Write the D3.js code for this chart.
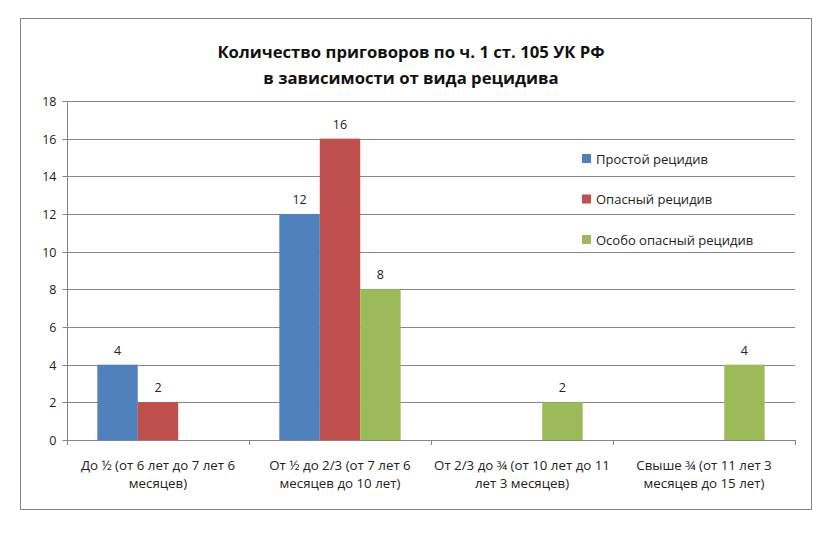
<!DOCTYPE html>
<html><head><meta charset="utf-8">
<script src="https://cdn.jsdelivr.net/npm/d3@7"></script>
<style>body{margin:0;background:#fff;}svg{display:block;}</style>
</head><body>
<svg id="c" width="833" height="534"></svg>
<script>
const categories = [
  ["До ½ (от 6 лет до 7 лет 6", "месяцев)"],
  ["От ½ до  2/3  (от 7 лет 6", "месяцев до 10 лет)"],
  ["От 2/3  до ¾ (от 10  лет до 11", "лет 3 месяцев)"],
  ["Свыше ¾ (от 11  лет 3", "месяцев до 15 лет)"]
];
const seriesNames = ["Простой рецидив", "Опасный рецидив", "Особо опасный рецидив"];
const simpleVals = [4, 12, null, null];
const dangerousVals = [2, 16, null, null];
const especiallyVals = [null, 8, 2, 4];
const yTicks = [0, 2, 4, 6, 8, 10, 12, 14, 16, 18];
const titleLines = ["Количество приговоров по ч. 1 ст. 105 УК РФ", "в зависимости от вида рецидива"];
const colors = ["#4F81BD", "#C0504D", "#9BBB59"];
const series = [simpleVals, dangerousVals, especiallyVals];

const svg = d3.select("#c");
const font = "'Open Sans', 'DejaVu Sans', sans-serif";
svg.append("rect").attr("x", 20.5).attr("y", 18.5).attr("width", 791).attr("height", 491)
  .attr("fill", "#fff").attr("stroke", "#868686").attr("stroke-width", 1);

const L = 67, R = 795, T = 101, B = 440;
const x = d3.scaleBand().domain(d3.range(categories.length)).range([L, R]).paddingInner(0).paddingOuter(0);
const y = d3.scaleLinear().domain([0, 18]).range([B, T]);
const bw = x.bandwidth() / 4.5;
const xs = d3.scaleBand().domain(d3.range(3)).range([0.75 * bw, x.bandwidth() - 0.75 * bw]);

// gridlines
svg.append("g").selectAll("line").data(yTicks).join("line")
  .attr("x1", L).attr("x2", R).attr("y1", d => Math.round(y(d)) + 0.5).attr("y2", d => Math.round(y(d)) + 0.5)
  .attr("stroke", "#868686").attr("stroke-width", 1);

// y axis
const ya = svg.append("g").attr("transform", `translate(${L + 0.5},0)`)
  .call(d3.axisLeft(y).tickValues(yTicks).tickSize(5).tickPadding(6));
ya.select(".domain").attr("stroke", "#868686").attr("d", `M0,${T}V${B + 0.5}`);
ya.selectAll(".tick line").attr("stroke", "#868686");
ya.selectAll(".tick").attr("transform", d => `translate(0,${Math.round(y(d)) + 0.5})`);
ya.selectAll("text").attr("font-family", font).attr("font-size", 12.5).attr("fill", "#222");

// x axis ticks
const xTickPos = d3.range(categories.length + 1).map(i => i < categories.length ? x(i) : R);
svg.append("g").selectAll("line").data(xTickPos).join("line")
  .attr("x1", d => Math.round(d) + 0.5).attr("x2", d => Math.round(d) + 0.5)
  .attr("y1", B).attr("y2", B + 5).attr("stroke", "#868686");

// bars
series.forEach((vals, si) => {
  const g = svg.append("g");
  const data = vals.map((v, i) => ({v, i})).filter(d => d.v != null);
  g.selectAll("rect").data(data).join("rect")
    .attr("x", d => x(d.i) + xs(si)).attr("width", xs.bandwidth())
    .attr("y", d => y(d.v)).attr("height", d => y(0) - y(d.v))
    .attr("fill", colors[si]);
  g.selectAll("text").data(data).join("text")
    .attr("x", d => x(d.i) + xs(si) + xs.bandwidth() / 2).attr("y", d => y(d.v) - 10)
    .attr("text-anchor", "middle").attr("font-family", font).attr("font-size", 12.5).attr("fill", "#222")
    .text(d => d.v);
});

// category labels
categories.forEach((lines, i) => {
  const t = svg.append("text").attr("text-anchor", "middle").attr("font-family", font)
    .attr("font-size", 13.3).attr("fill", "#222");
  lines.forEach((ln, k) => {
    t.append("tspan").attr("x", x(i) + x.bandwidth() / 2).attr("y", 470 + k * 18).text(ln);
  });
});

// legend
const lg = svg.append("g");
seriesNames.forEach((n, i) => {
  const yy = 159 + i * 40.5;
  lg.append("rect").attr("x", 582).attr("y", yy - 5).attr("width", 9).attr("height", 9).attr("fill", colors[i]);
  lg.append("text").attr("x", 596).attr("y", yy + 4.5).attr("font-family", font).attr("font-size", 13)
    .attr("fill", "#222").text(n);
});

// title
titleLines.forEach((ln, k) => {
  svg.append("text").attr("x", 411).attr("y", 58 + k * 26).attr("text-anchor", "middle")
    .attr("font-family", font).attr("font-weight", "bold").attr("font-size", 16.7).attr("fill", "#111")
    .text(ln);
});
</script>
</body></html>
